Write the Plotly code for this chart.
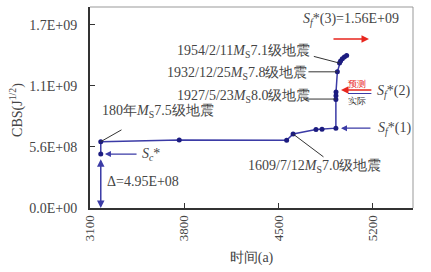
import plotly.graph_objects as go

# ---- data ----
years = [3180, 3763, 4561, 4609, 4779, 4824, 4927, 4927, 4927.5, 4928, 4938, 4954, 4962, 4975, 4990, 5007]
cbs = [6.09e8, 6.24e8, 6.22e8, 6.79e8, 7.20e8, 7.23e8, 7.33e8, 9.95e8, 1.03e9, 1.065e9,
       1.25e9, 1.33e9, 1.35e9, 1.37e9, 1.385e9, 1.40e9]
sc_val = 4.95e8
sf1 = 7.33e8
sf2_pred = 1.083e9
sf2_real = 1.051e9
sf3 = 1.551e9
y_tickvals = [0, 5.6e8, 1.12e9, 1.68e9]
y_ticktext = ["0.0E+00", "5.6E+08", "1.1E+09", "1.7E+09"]
x_tickvals = [3100, 3800, 4500, 5200]

FONT = "Liberation Serif"
TXT = "#454545"
LINE = "#3b3ba6"
MARK = "#1c1c80"
RED = "#e8261e"

fig = go.Figure()
fig.add_trace(go.Scatter(x=[years[0], years[0]], y=[cbs[0], sc_val], mode="lines",
                         line=dict(color=LINE, width=1.5), showlegend=False))
fig.add_trace(go.Scatter(x=years, y=cbs, mode="lines+markers",
                         line=dict(color=LINE, width=1.5),
                         marker=dict(color=MARK, size=5), showlegend=False))
fig.add_trace(go.Scatter(x=[years[0]], y=[sc_val], mode="markers",
                         marker=dict(color=MARK, size=5), showlegend=False))

ann = []
def txt(x, y, t, color=TXT, size=14, xanchor="left"):
    ann.append(dict(x=x, y=y, xref="x", yref="y", text=t, showarrow=False,
                    xanchor=xanchor, yanchor="middle",
                    font=dict(family=FONT, size=size, color=color)))

def arrow(x, y, ax, ay, color, head=2, width=1.2, side="end", size=1.0):
    ann.append(dict(x=x, y=y, ax=ax, ay=ay, xref="x", yref="y", axref="x", ayref="y",
                    text="", showarrow=True, arrowhead=head, arrowsize=size,
                    arrowwidth=width, arrowcolor=color, arrowside=side))

MS = "<i>M</i><sub>S</sub>"
# event labels
txt(3174, 8.9e8, "180年" + MS + "7.5级地震")
arrow(years[0], cbs[0], 3345, 7.25e8, "#333333", head=0, width=1)
txt(3731, 1.432e9, "1954/2/11" + MS + "7.1级地震")
arrow(years[11], cbs[11], 4752, 1.395e9, "#333333", head=0, width=1)
txt(3657, 1.239e9, "1932/12/25" + MS + "7.8级地震")
arrow(years[10], cbs[10], 4712, 1.25e9, "#333333", head=0, width=1)
txt(3731, 1.028e9, "1927/5/23" + MS + "8.0级地震")
arrow(years[7], 1.0e9, 4675, 1.0e9, "#333333", head=0, width=1)
txt(4259, 3.79e8, "1609/7/12" + MS + "7.0级地震")
arrow(years[3], cbs[3], 4846, 4.59e8, "#333333", head=0, width=1)

# Sc* and delta
arrow(3211, sc_val, 3457, sc_val, LINE, head=2, width=1.2)
txt(3470, sc_val, "<i>S</i><sub><i>c</i></sub>*")
arrow(years[0], 0, years[0], sc_val * 0.93, LINE, head=2, width=1.5, side="end+start")
txt(3210, 2.4e8, "Δ=4.95E+08")

# Sf*(1)
arrow(4965, sf1, 5195, sf1, LINE, head=2, width=1.2)
txt(5225, sf1, "<i>S<sub>f</sub></i>*(1)")
# Sf*(2)
arrow(4965, sf2_pred, 5202, sf2_pred, RED, head=2, width=1.5)
arrow(5017, sf2_real, 5202, sf2_real, LINE, head=0, width=1.2)
txt(5082, 1.14e9, "预测", color=RED, size=9, xanchor="center")
txt(5085, 9.82e8, "实际", color="#333333", size=9, xanchor="center")
txt(5217, 1.065e9, "<i>S<sub>f</sub></i>*(2)")
# Sf*(3)
txt(4668, 1.726e9, "<i>S<sub>f</sub></i>*(3)=1.56E+09")
arrow(5173, sf3, 4898, sf3, RED, head=2, width=1.5)

# y-axis title
ann.append(dict(x=0, y=0.488, xref="paper", yref="paper", xshift=-73, xanchor="center",
                yanchor="middle", text="CBS(J<sup>1/2</sup>)",
                showarrow=False, textangle=-90, font=dict(family=FONT, size=14, color=TXT)))

fig.update_layout(
    width=431, height=272,
    margin=dict(l=90, r=18, t=7, b=64),
    paper_bgcolor="white", plot_bgcolor="white",
    annotations=ann,
    xaxis=dict(range=[3100, 5500], tickvals=x_tickvals, tickangle=-90, automargin=False,
               ticks="inside", ticklen=5, tickcolor="#333", showgrid=False, zeroline=False,
               showline=True, linecolor="#333", linewidth=2, mirror=False,
               tickfont=dict(family=FONT, size=13, color=TXT),
               title=dict(text="时间(a)", font=dict(family=FONT, size=14, color=TXT), standoff=12)),
    yaxis=dict(range=[0, 1.845e9], tickvals=y_tickvals, ticktext=y_ticktext, automargin=False,
               ticks="inside", ticklen=5, tickcolor="#333", showgrid=False, zeroline=False,
               showline=True, linecolor="#333", linewidth=2,
               tickfont=dict(family=FONT, size=14, color=TXT), ticklabelstandoff=8),
    shapes=[dict(type="line", xref="paper", yref="paper", x0=0, x1=1, y0=1, y1=1,
                 line=dict(color="#999", width=1)),
            dict(type="line", xref="paper", yref="paper", x0=1, x1=1, y0=0, y1=1,
                 line=dict(color="#999", width=1))],
)
fig.write_html("out.html", config={"displayModeBar": False},
               post_script="document.body.style.margin='0';document.body.style.padding='0';")
